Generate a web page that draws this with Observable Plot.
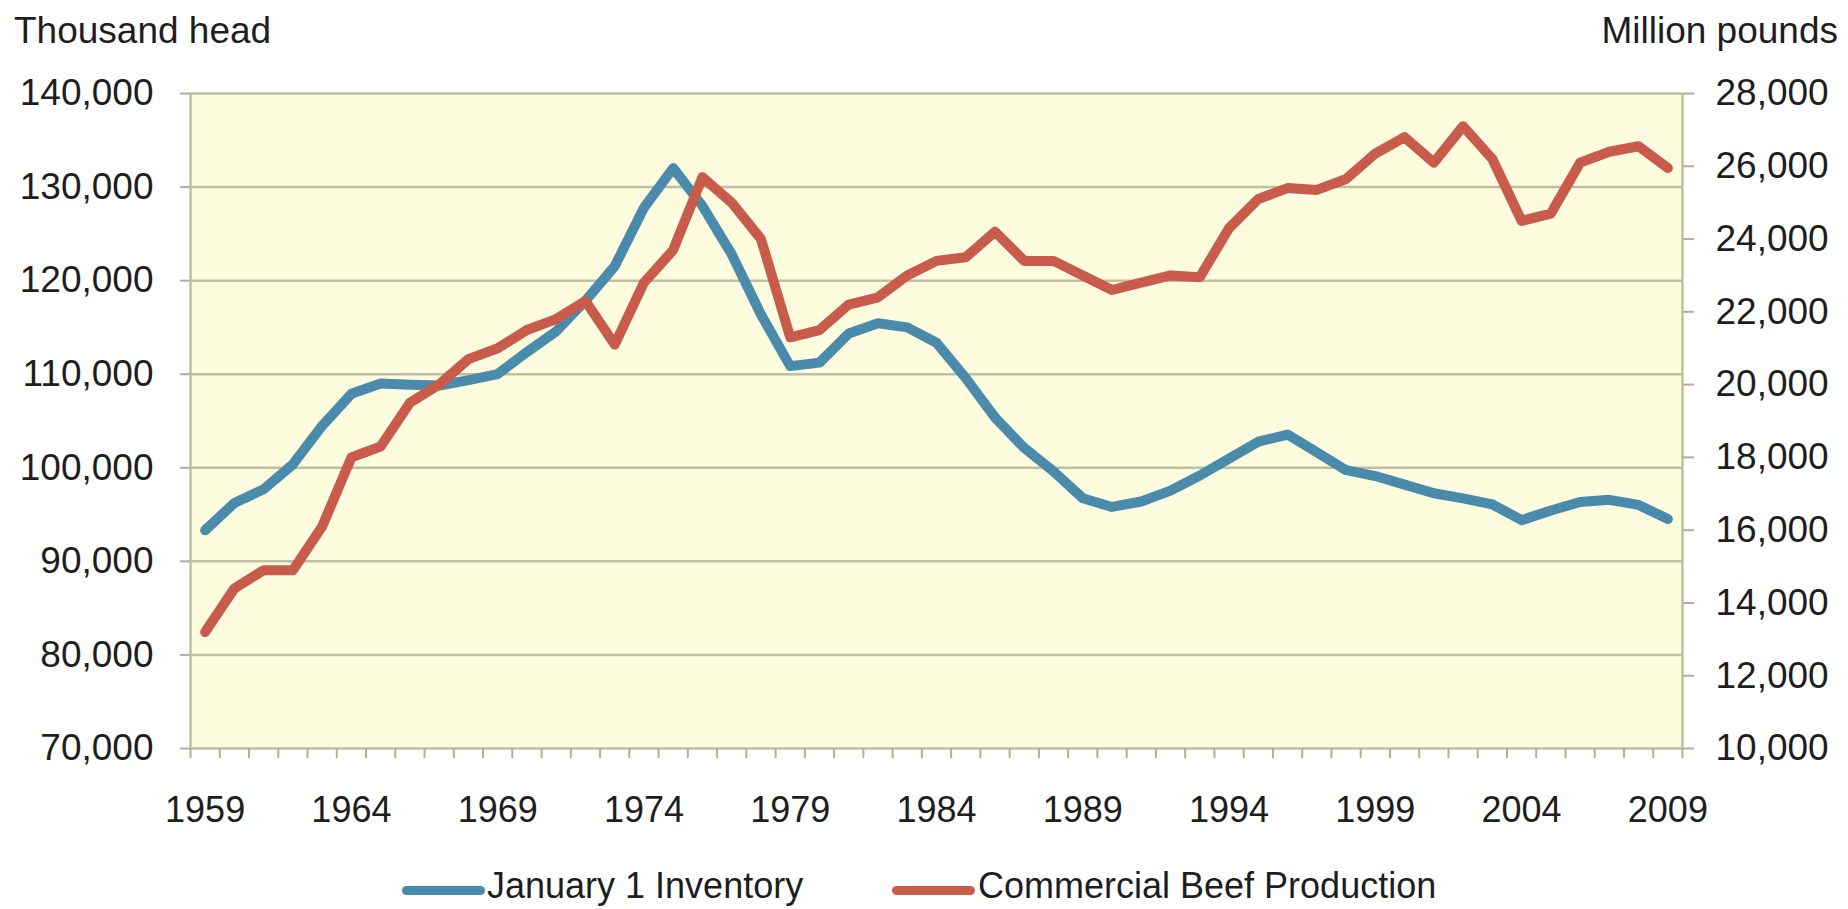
<!DOCTYPE html>
<html>
<head>
<meta charset="utf-8">
<script src="https://cdn.jsdelivr.net/npm/d3@7"></script>
<script src="https://cdn.jsdelivr.net/npm/@observablehq/plot@0.6"></script>
<style>
  html, body { margin: 0; padding: 0; background: #ffffff; }
  body { font-family: "Liberation Sans", Arial, Helvetica, sans-serif; color: #1e1e1e; }
  #wrap { position: relative; width: 1848px; height: 909px; overflow: hidden; }
  #header { position: relative; height: 60px; }
  .unit { position: absolute; top: 10px; font-size: 37px; line-height: normal; white-space: nowrap; }
  #legend { position: relative; height: 71px; }
  .sw { position: absolute; height: 9px; border-radius: 5px; }
  .lt { position: absolute; top: 27px; font-size: 36px; line-height: normal; white-space: nowrap; }
</style>
</head>
<body>
<div id="wrap">
  <div id="header">
    <span class="unit" style="left:14px">Thousand head</span>
    <span class="unit" style="right:10px">Million pounds</span>
  </div>
  <div id="chart"></div>
  <div id="legend"></div>
</div>
<script>
// ---- Data ----
const years = d3.range(1959, 2010);
const inventory = [
  93322, 96236, 97700, 100369, 104488, 107903, 109000, 108862, 108783, 109371,
  110015, 112369, 114578, 117862, 121539, 127788, 132028, 127980, 122810, 116375,
  110864, 111242, 114351, 115444, 115001, 113360, 109582, 105378, 102118, 99622,
  96740, 95816, 96393, 97556, 99176, 100974, 102785, 103548, 101656, 99744,
  99115, 98199, 97277, 96723, 96100, 94403, 95438, 96342, 96573, 96035,
  94521
];
const beefProduction = [
  13200, 14400, 14900, 14900, 16100, 18000, 18300, 19500, 20000, 20700,
  21000, 21500, 21800, 22300, 21100, 22800, 23700, 25700, 25000, 24000,
  21300, 21500, 22200, 22400, 23000, 23400, 23500, 24200, 23400, 23400,
  23000, 22600, 22800, 23000, 22950, 24300, 25100, 25400, 25350, 25650,
  26350, 26800, 26100, 27100, 26200, 24500, 24700, 26100, 26400, 26550,
  25950
];
const seriesNames = ["January 1 Inventory", "Commercial Beef Production"];
const seriesColors = ["#4a8aab", "#c85b4b"];
const leftTicks = [70000, 80000, 90000, 100000, 110000, 120000, 130000, 140000];
const rightTicks = [10000, 12000, 14000, 16000, 18000, 20000, 22000, 24000, 26000, 28000];
const xLabelYears = [1959, 1964, 1969, 1974, 1979, 1984, 1989, 1994, 1999, 2004, 2009];

// ---- Build table ----
const rows = years.map((year, i) => ({year, inv: inventory[i], beef: beefProduction[i]}));

const L0 = 70000, L1 = 140000, R0 = 10000, R1 = 28000;
const toLeft = v => L0 + (v - R0) * (L1 - L0) / (R1 - R0);
const toRight = v => R0 + (v - L0) * (R1 - R0) / (L1 - L0);
const fmt = d3.format(",");
const boundaries = d3.range(years[0] - 0.5, years[years.length - 1] + 1, 1);

const gridColor = "#c2bea3";
const axisColor = "#b3ae98";

const chart = Plot.plot({
  width: 1848,
  height: 778,
  marginLeft: 190,
  marginRight: 166,
  marginTop: 33,
  marginBottom: 90,
  style: {fontFamily: '"Liberation Sans", Arial, Helvetica, sans-serif', fontSize: "36px", color: "#1e1e1e", background: "transparent"},
  x: {type: "linear", domain: [years[0] - 0.5, years[years.length - 1] + 0.5]},
  y: {domain: [L0, L1]},
  marks: [
    Plot.frame({fill: "#fdfcdf", stroke: null}),
    Plot.ruleY(leftTicks, {stroke: gridColor, strokeWidth: 2.5}),
    Plot.ruleX([boundaries[0], boundaries[boundaries.length - 1]], {stroke: gridColor, strokeWidth: 2.5}),
    Plot.axisY(leftTicks, {anchor: "left", tickSize: 10, tickPadding: 27, tickFormat: fmt, fontSize: 37, stroke: axisColor, strokeWidth: 2, label: null}),
    Plot.axisY(rightTicks.map(toLeft), {anchor: "right", tickSize: 11, tickPadding: 22, tickFormat: d => fmt(Math.round(toRight(d))), fontSize: 37, stroke: axisColor, strokeWidth: 2, label: null}),
    Plot.axisX(boundaries, {anchor: "bottom", tickSize: 10, tickFormat: () => "", stroke: axisColor, strokeWidth: 2, label: null}),
    Plot.axisX(xLabelYears, {anchor: "bottom", tickSize: 0, tickPadding: 48, tickFormat: d => String(d), fontSize: 36, label: null}),
    Plot.lineY(rows, {x: "year", y: "inv", stroke: seriesColors[0], strokeWidth: 10, strokeLinejoin: "round", strokeLinecap: "round"}),
    Plot.lineY(rows, {x: "year", y: d => toLeft(d.beef), stroke: seriesColors[1], strokeWidth: 10, strokeLinejoin: "round", strokeLinecap: "round"})
  ]
});
document.getElementById("chart").appendChild(chart);

// ---- Legend ----
const legend = document.getElementById("legend");
const legendPos = [{sw: 402, tx: 487}, {sw: 892, tx: 978}];
seriesNames.forEach((name, i) => {
  const sw = document.createElement("div");
  sw.className = "sw";
  sw.style.left = legendPos[i].sw + "px";
  sw.style.width = "83px";
  sw.style.top = "48px";
  sw.style.background = seriesColors[i];
  legend.appendChild(sw);
  const t = document.createElement("span");
  t.className = "lt";
  t.style.left = legendPos[i].tx + "px";
  t.textContent = name;
  legend.appendChild(t);
});
</script>
</body>
</html>
